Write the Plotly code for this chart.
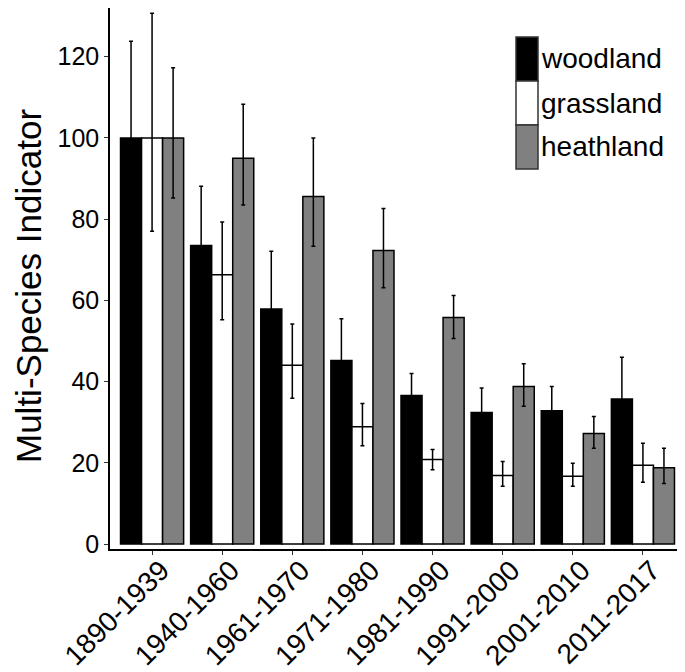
import plotly.graph_objects as go

periods = ["1890-1939", "1940-1960", "1961-1970", "1971-1980",
           "1981-1990", "1991-2000", "2001-2010", "2011-2017"]

series_names = ["woodland", "grassland", "heathland"]
series_colors = ["#000000", "#FFFFFF", "#808080"]

woodland = [100, 73.5, 57.9, 45.2, 36.6, 32.4, 32.8, 35.7]
woodland_hi = [123.8, 88.1, 72.1, 55.5, 42.0, 38.4, 38.8, 46.0]
woodland_lo = [80.8, 61.3, 46.5, 36.8, 31.9, 27.3, 27.7, 27.7]

grassland = [100, 66.3, 44.0, 28.9, 20.8, 16.9, 16.7, 19.4]
grassland_hi = [130.7, 79.3, 54.2, 34.6, 23.3, 20.3, 19.9, 24.8]
grassland_lo = [77.0, 55.2, 35.9, 24.2, 18.3, 14.2, 14.2, 15.2]

heathland = [100, 95.0, 85.6, 72.3, 55.8, 38.8, 27.2, 18.8]
heathland_hi = [117.3, 108.3, 100.0, 82.6, 61.2, 44.4, 31.4, 23.6]
heathland_lo = [85.2, 83.5, 73.3, 63.1, 50.6, 33.9, 23.6, 14.9]

yticks = [0, 20, 40, 60, 80, 100, 120]

vals = [woodland, grassland, heathland]
his = [woodland_hi, grassland_hi, heathland_hi]
los = [woodland_lo, grassland_lo, heathland_lo]

FONT = "Liberation Sans, Arial, sans-serif"

# page layout (the page body adds an 8px offset)
OFF = 8
W, H = 685 - OFF, 672 - OFF
PL, PR, PT, PB = 110, 685, 8, 549  # plot area in window pixels
ML, MT = PL - OFF, PT - OFF
MB = H - (PB - OFF)
PW, PH = PR - PL, PB - PT


def px_x(x):
    return (x - PL) / PW


def px_y(y):
    return 1 - (y - PT) / PH


fig = go.Figure()
for name, col, v, hi, lo in zip(series_names, series_colors, vals, his, los):
    fig.add_trace(go.Bar(
        x=periods, y=v, name=name,
        marker=dict(color=col, line=dict(color="black", width=1.5)),
        error_y=dict(type="data", symmetric=False,
                     array=[h - a for h, a in zip(hi, v)],
                     arrayminus=[a - l for a, l in zip(v, lo)],
                     color="black", thickness=1.5, width=2),
        showlegend=False,
    ))

# custom legend with large keys
key_h = 44
top_px = 37
for i, (name, col) in enumerate(zip(series_names, series_colors)):
    y0 = top_px + i * key_h
    fig.add_shape(type="rect", xref="paper", yref="paper",
                  x0=px_x(516), x1=px_x(538),
                  y0=px_y(y0 + key_h), y1=px_y(y0),
                  fillcolor=col, line=dict(color="#333333", width=1.5))
    fig.add_annotation(xref="paper", yref="paper",
                       x=px_x(539), y=px_y(y0 + key_h / 2),
                       text=name, showarrow=False, xanchor="left", yanchor="middle",
                       font=dict(family=FONT, size=28, color="black"))

fig.add_annotation(xref="paper", yref="paper",
                   x=px_x(28), y=px_y(286),
                   text="Multi-Species Indicator", textangle=-90, showarrow=False,
                   xanchor="center", yanchor="middle",
                   font=dict(family=FONT, size=35, color="black"))

fig.update_layout(
    width=W, height=H,
    margin=dict(l=ML, r=0, t=MT, b=MB, pad=0),
    paper_bgcolor="white", plot_bgcolor="white",
    barmode="group", bargap=0.1, bargroupgap=0,
    font=dict(family=FONT, color="black"),
)
fig.update_xaxes(
    type="category", range=[-0.6, 7.6],
    showline=True, linecolor="black", linewidth=1.5,
    ticks="outside", ticklen=4, tickwidth=1, tickcolor="#333333",
    tickangle=-45, tickfont=dict(family=FONT, size=28, color="black"),
    ticklabelshift=9, ticklabelstandoff=-12,
    showgrid=False, zeroline=False, automargin=False,
)
fig.update_yaxes(
    range=[-1.23, 132], tickvals=yticks,
    showline=True, linecolor="black", linewidth=1.5,
    ticks="outside", ticklen=4, tickwidth=1, tickcolor="#333333",
    tickfont=dict(family=FONT, size=25, color="black"),
    showgrid=False, zeroline=False, automargin=False,
)

fig.write_html("out.html")
